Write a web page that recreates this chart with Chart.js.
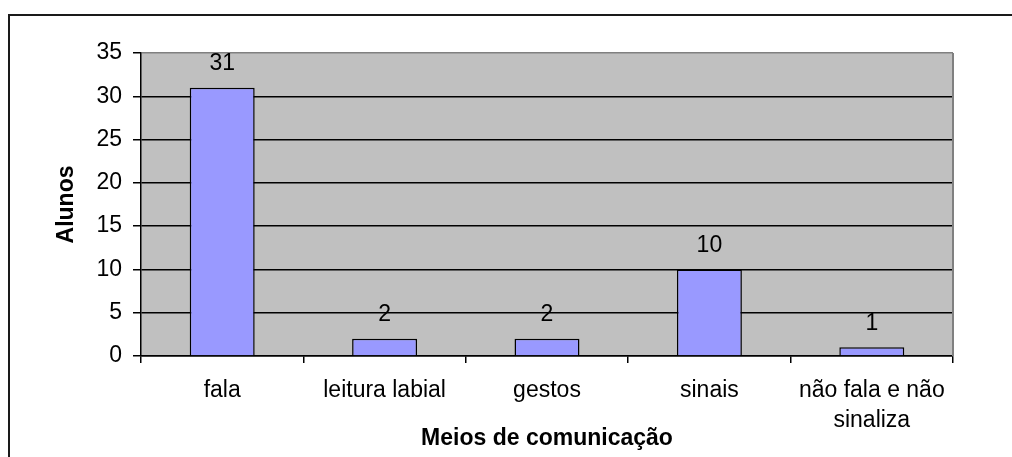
<!DOCTYPE html>
<html>
<head>
<meta charset="utf-8">
<script src="https://cdn.jsdelivr.net/npm/chart.js@4.4.0/dist/chart.umd.min.js"></script>
<style>
  html, body { margin: 0; padding: 0; background: #fff; }
  #wrap { width: 1012px; height: 457px; }
</style>
</head>
<body>
<div id="wrap"><canvas id="meiosChart" width="1012" height="457"></canvas></div>
<script>
const labels = ["fala", "leitura labial", "gestos", "sinais", ["não fala e não", "sinaliza"]];
const alunos = [31, 2, 2, 10, 1];
const yTitle = "Alunos";
const xTitle = "Meios de comunicação";

const FONT = "'Liberation Sans', Arial, sans-serif";

// grey plot area, outer frame and value labels
const chartDecor = {
  id: "chartDecor",
  beforeDraw: function (chart) {
    const ctx = chart.ctx;
    const a = chart.chartArea;
    ctx.save();
    ctx.fillStyle = "#ffffff";
    ctx.fillRect(0, 0, chart.width, chart.height);
    ctx.fillStyle = "#c0c0c0";
    ctx.fillRect(a.left, a.top, a.right - a.left, a.bottom - a.top);
    ctx.strokeStyle = "#1a1a1a";
    ctx.lineWidth = 2;
    ctx.beginPath();
    ctx.moveTo(9, chart.height);
    ctx.lineTo(9, 15);
    ctx.lineTo(chart.width, 15);
    ctx.stroke();
    ctx.restore();
  },
  beforeDatasetsDraw: function (chart) {
    const ctx = chart.ctx;
    const a = chart.chartArea;
    ctx.save();
    ctx.strokeStyle = "#808080";
    ctx.lineWidth = 2;
    ctx.beginPath();
    ctx.moveTo(a.right, a.top);
    ctx.lineTo(a.right, a.bottom);
    ctx.stroke();
    ctx.restore();
  },
  afterDatasetsDraw: function (chart) {
    const ctx = chart.ctx;
    const meta = chart.getDatasetMeta(0);
    ctx.save();
    ctx.fillStyle = "#000";
    ctx.font = "23px " + FONT;
    ctx.textAlign = "center";
    ctx.textBaseline = "middle";
    meta.data.forEach(function (bar, i) {
      ctx.fillText(String(alunos[i]), bar.x, bar.y - 24);
    });
    ctx.restore();
  }
};

const ctx = document.getElementById("meiosChart").getContext("2d");
const myChart = new Chart(ctx, {
  type: "bar",
  data: {
    labels: labels,
    datasets: [{
      data: alunos,
      backgroundColor: "#9999ff",
      borderColor: "#000000",
      borderWidth: 1.5,
      categoryPercentage: 1.0,
      barPercentage: 0.4
    }]
  },
  options: {
    responsive: false,
    animation: false,
    layout: { padding: { left: 49, top: 53, right: 59, bottom: 0 } },
    plugins: {
      legend: { display: false },
      tooltip: { enabled: false }
    },
    scales: {
      x: {
        afterFit: function (scale) { scale.height = 101; },
        grid: {
          display: true,
          drawOnChartArea: false,
          drawTicks: true,
          tickLength: 7,
          color: "#000",
          lineWidth: 1.5
        },
        border: { display: true, color: "#000", width: 1.5 },
        ticks: {
          color: "#000",
          padding: 13,
          maxRotation: 0,
          autoSkip: false,
          font: { family: FONT, size: 23, lineHeight: 1.3 }
        },
        title: {
          display: true,
          text: xTitle,
          color: "#000",
          padding: { top: 0, bottom: 5 },
          font: { family: FONT, size: 23, weight: "bold" }
        }
      },
      y: {
        min: 0,
        max: 35,
        afterFit: function (scale) { scale.width = 92; },
        grid: {
          color: function (c) { return c.tick && c.tick.value === 35 ? "#808080" : "#000"; },
          tickColor: "#000",
          lineWidth: 1.5,
          tickLength: 8
        },
        border: { display: true, color: "#000", width: 1.5 },
        ticks: {
          stepSize: 5,
          color: "#000",
          padding: 11,
          font: { family: FONT, size: 23 }
        },
        title: {
          display: true,
          text: yTitle,
          color: "#000",
          padding: { top: 4, bottom: 0 },
          font: { family: FONT, size: 23, weight: "bold" }
        }
      }
    }
  },
  plugins: [chartDecor]
});
</script>
</body>
</html>
